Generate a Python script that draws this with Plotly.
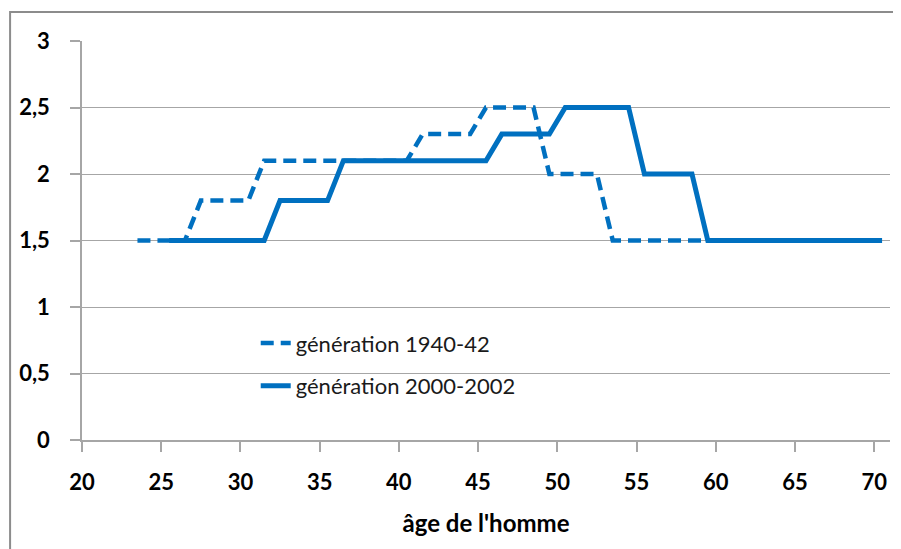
import plotly.graph_objs as go

# ages (points sit at mid-year) and number of children
age_1940 = [23.5, 26.5, 27.5, 30.5, 31.5, 40.5, 41.5, 44.5, 45.5, 48.5, 49.5, 52.5, 53.5, 70.5]
val_1940 = [1.5, 1.5, 1.8, 1.8, 2.1, 2.1, 2.3, 2.3, 2.5, 2.5, 2.0, 2.0, 1.5, 1.5]

age_2000 = [25.5, 31.5, 32.5, 35.5, 36.5, 45.5, 46.5, 49.5, 50.5, 54.5, 55.5, 58.5, 59.5, 70.5]
val_2000 = [1.5, 1.5, 1.8, 1.8, 2.1, 2.1, 2.3, 2.3, 2.5, 2.5, 2.0, 2.0, 1.5, 1.5]

x_ticks = [20, 25, 30, 35, 40, 45, 50, 55, 60, 65, 70]
y_ticks = [0, 0.5, 1, 1.5, 2, 2.5, 3]

blue = '#0070C0'
grey = '#A6A6A6'
font = 'Lato, Liberation Sans, Arial'

fig = go.Figure()
fig.add_trace(go.Scatter(
    x=age_1940, y=val_1940, mode='lines',
    name='génération 1940-42', legendgroup='a',
    line=dict(color=blue, width=4.5, dash='13px,7px'),
))
fig.add_trace(go.Scatter(
    x=age_2000, y=val_2000, mode='lines',
    name='génération 2000-2002', legendgroup='b',
    line=dict(color=blue, width=5),
))

# outer chart frame
fig.add_shape(type='rect', xref='paper', yref='paper',
              x0=-0.089, x1=1.2, y0=-0.5, y1=1.0727,
              line=dict(color='#8C8C8C', width=2), layer='below')

# page body adds an 8px margin, so the figure is a bit smaller than the window
fig.update_layout(
    width=893, height=541,
    margin=dict(l=74, r=11, t=33, b=109),
    paper_bgcolor='white', plot_bgcolor='white',
    separators=', ',
    font=dict(family=font, color='black'),
    showlegend=True,
    legend=dict(x=0.215, y=0.295, xanchor='left', yanchor='top',
                bgcolor='rgba(0,0,0,0)', tracegroupgap=11,
                font=dict(size=22, color='#1a1a1a')),
    xaxis=dict(
        range=[20, 71], tickvals=x_ticks, automargin=False,
        showgrid=False, zeroline=False,
        showline=True, linecolor=grey, linewidth=1.5,
        ticks='outside', ticklen=10, tickcolor=grey, tickwidth=1.5,
        tickfont=dict(size=22, family=font, weight='bold'),
        ticklabelstandoff=12,
        title=dict(text="âge de l'homme", font=dict(size=24, weight='bold'), standoff=21),
    ),
    yaxis=dict(
        range=[0, 3], tickvals=y_ticks, automargin=False,
        showgrid=True, gridcolor=grey, gridwidth=1.2,
        zeroline=False,
        showline=True, linecolor=grey, linewidth=1.5,
        ticks='outside', ticklen=10, tickcolor=grey, tickwidth=1.5,
        tickfont=dict(size=22, family=font, weight='bold'),
        ticklabelstandoff=16,
    ),
)

fig.write_html("out.html")
